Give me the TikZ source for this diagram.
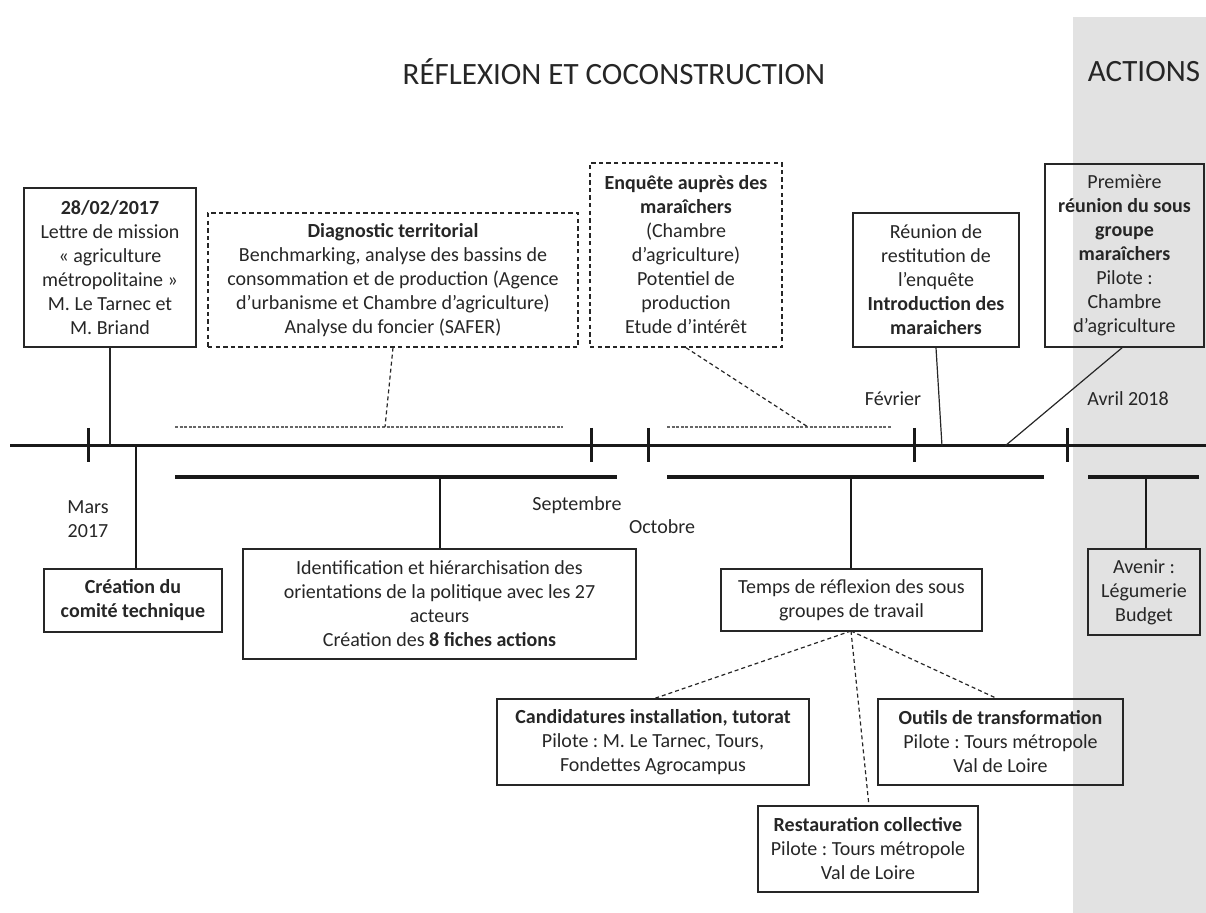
\documentclass[tikz,border=0pt]{standalone}
\usepackage{fontspec}
\setmainfont{Carlito}
\frenchspacing
\definecolor{ink}{HTML}{262626}
\definecolor{panel}{HTML}{E2E2E2}
\begin{document}
\begin{tikzpicture}[x=0.5pt,y=-0.5pt,
  txt/.style={font=\fontsize{10}{12}\selectfont, text=ink, align=center, inner sep=0pt},
  box/.style={txt, draw=ink, line width=0.7pt},
  dbox/.style={box, dash pattern=on 2.2pt off 1.6pt},
  title/.style={font=\fontsize{15.5}{18}\selectfont, text=ink, inner sep=0pt},
  axis/.style={line width=1.5pt, black!90},
  tick/.style={line width=1.5pt, black!90},
  span/.style={line width=1.6pt, black!90},
  thin/.style={line width=0.6pt, ink},
  link/.style={line width=1.1pt, black!90},
  dlink/.style={line width=0.6pt, ink, dash pattern=on 2pt off 1.5pt},
  fine/.style={line width=0.6pt, black!60, dash pattern=on 1.5pt off 0.8pt}
]
\useasboundingbox (0,0) rectangle (1206,913);
% panel
\fill[panel] (1073,17) rectangle (1206,913);

% titles
\node[title] (t1) at (614,72) {RÉFLEXION ET COCONSTRUCTION};
\node[title] (t2) at (1144,72) {ACTIONS};

% timeline
\coordinate (a0) at (10,446);
\coordinate (a1) at (1206,446);
\draw[axis] (a0) -- (a1);
\foreach \x in {88,591,648,914,1067}{\draw[tick] (\x,428) -- (\x,462);}

% upper fine dashed spans
\coordinate (u1) at (175,427); \coordinate (u2) at (563,427);
\coordinate (u3) at (667,427); \coordinate (u4) at (892,427);
\draw[fine] (u1) -- (u2);
\draw[fine] (u3) -- (u4);
% lower spans
\coordinate (l1) at (175,477); \coordinate (l2) at (617,477);
\coordinate (l3) at (667,477); \coordinate (l4) at (1044,477);
\coordinate (l5) at (1088,477); \coordinate (l6) at (1199,477);
\draw[span] (l1) -- (l2);
\draw[span] (l3) -- (l4);
\draw[span] (l5) -- (l6);

% date labels
\node[txt] (mars) at (88,519) {Mars\\2017};
\node[txt] (sept) at (577,505) {Septembre};
\node[txt] (oct) at (662,527) {Octobre};
\node[txt] (fev) at (893,399) {Février};
\node[txt] (avr) at (1128,399) {Avril 2018};

% top boxes
\node[box, minimum width=86pt, minimum height=79.5pt] (lettre) at (110,267.5)
 {\textbf{28/02/2017}\\Lettre de mission\\« agriculture\\métropolitaine »\\M. Le Tarnec et\\M. Briand};
\node[dbox, minimum width=185pt, minimum height=67pt] (diag) at (393,280)
 {\textbf{Diagnostic territorial}\\Benchmarking, analyse des bassins de\\consommation et de production (Agence\\d’urbanisme et Chambre d’agriculture)\\Analyse du foncier (SAFER)};
\node[dbox, minimum width=96pt, minimum height=92pt] (enq) at (686,255)
 {\textbf{Enquête auprès des}\\\textbf{maraîchers}\\(Chambre\\d’agriculture)\\Potentiel de\\production\\Etude d’intérêt};
\node[box, minimum width=83pt, minimum height=67pt] (reun) at (936,280)
 {Réunion de\\restitution de\\l’enquête\\\textbf{Introduction des}\\\textbf{maraichers}};
\node[box, minimum width=79.5pt, minimum height=91.5pt] (prem) at (1124.5,255.5)
 {Première\\\textbf{réunion du sous}\\\textbf{groupe}\\\textbf{maraîchers}\\Pilote :\\Chambre\\d’agriculture};

% bottom boxes
\node[box, minimum width=89pt, minimum height=31.5pt] (crea) at (133,600.5)
 {\textbf{Création du}\\\textbf{comité technique}};
\node[box, minimum width=196.5pt, minimum height=55pt] (ident) at (439.5,604)
 {Identification et hiérarchisation des\\orientations de la politique avec les 27\\acteurs\\Création des \textbf{8 fiches actions}};
\node[box, minimum width=130.5pt, minimum height=31pt] (temps) at (851.5,600)
 {Temps de réflexion des sous\\groupes de travail};
\node[box, minimum width=56pt, minimum height=43pt] (avenir) at (1144,592)
 {Avenir :\\Légumerie\\Budget};
\node[box, minimum width=156pt, minimum height=43pt] (cand) at (653,742)
 {\textbf{Candidatures installation, tutorat}\\Pilote : M. Le Tarnec, Tours,\\Fondettes Agrocampus};
\node[box, minimum width=122.5pt, minimum height=43pt] (outils) at (1000.5,742)
 {\textbf{Outils de transformation}\\Pilote : Tours métropole\\Val de Loire};
\node[box, minimum width=110pt, minimum height=43pt] (resto) at (868,849)
 {\textbf{Restauration collective}\\Pilote : Tours métropole\\Val de Loire};

% connectors from top boxes
\coordinate (k1) at (110,446);
\coordinate (k2) at (385,427);
\coordinate (k3) at (808,427);
\coordinate (k4) at (942,446);
\coordinate (k5) at (1005,446);
\coordinate (k6) at (1123,347);
\draw[thin] (lettre.south) -- (k1);
\draw[dlink] (diag.south) -- (k2);
\draw[dlink] (enq.south) -- (k3);
\draw[thin] (reun.south) -- (k4);
\draw[thin] (k6) -- (k5);

% connectors to bottom boxes
\coordinate (d1) at (136,446);
\coordinate (d2) at (440,477);
\coordinate (d3) at (851,477);
\coordinate (d4) at (1146,477);
\draw[link] (d1) -- (d1 |- crea.north);
\draw[link] (d2) -- (d2 |- ident.north);
\draw[link] (d3) -- (d3 |- temps.north);
\draw[link] (d4) -- (d4 |- avenir.north);

% sub-groups
\coordinate (s0) at (851,631);
\coordinate (s1) at (653,699);
\coordinate (s2) at (869,806);
\coordinate (s3) at (998,699);
\draw[dlink] (s0) -- (s1);
\draw[dlink] (s0) -- (s2);
\draw[dlink] (s0) -- (s3);
\end{tikzpicture}
\end{document}
